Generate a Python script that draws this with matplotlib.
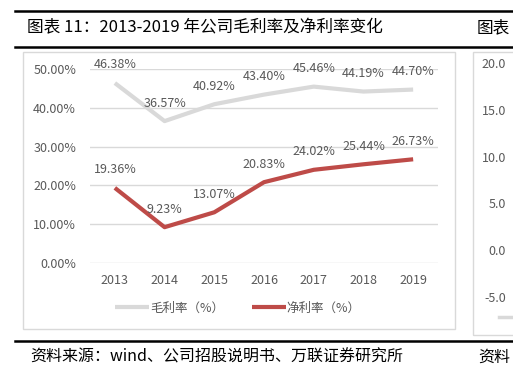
import matplotlib.pyplot as plt
from matplotlib.patches import Rectangle
from matplotlib.lines import Line2D

plt.rcParams['font.family'] = ['Noto Sans CJK SC', 'DejaVu Sans']

years = ["2013", "2014", "2015", "2016", "2017", "2018", "2019"]
gross_margin = [46.38, 36.57, 40.92, 43.40, 45.46, 44.19, 44.70]
net_margin = [19.36, 9.23, 13.07, 20.83, 24.02, 25.44, 26.73]
y_ticks = [0, 10, 20, 30, 40, 50]
right_ticks = ["20.0", "15.0", "10.0", "5.0", "0.0", "-5.0"]

W, H = 513, 371
fig = plt.figure(figsize=(W / 100, H / 100), dpi=100)


def fx(px):
    return px / W


def fy(py):
    return 1 - py / H


text_gray = "#595959"
grid_gray = "#d9d9d9"
gray_line = "#d9d9d9"
red_line = "#be4b48"

# header / footer rules
for y in (11, 47, 341):
    fig.add_artist(Line2D([fx(15), 1], [fy(y), fy(y)], color="black", lw=1.8))
fig.text(fx(27), fy(28), "图表 11：2013-2019 年公司毛利率及净利率变化",
         fontsize=12, va="center", ha="left")
fig.text(fx(477), fy(28), "图表", fontsize=12, va="center", ha="left")
fig.text(fx(30), fy(357), "资料来源：wind、公司招股说明书、万联证券研究所",
         fontsize=11.5, va="center", ha="left", style="italic")
fig.text(fx(478), fy(357), "资料", fontsize=11.5, va="center", ha="left",
         style="italic")

# chart frames
fig.add_artist(Rectangle((fx(23), fy(329)), fx(455 - 23), (329 - 52) / H,
                         fill=False, edgecolor=grid_gray, lw=1))
fig.add_artist(Rectangle((fx(473), fy(335)), fx(60), (335 - 52) / H,
                         fill=False, edgecolor=grid_gray, lw=1))

# partial neighbouring chart
for i, lab in enumerate(right_ticks):
    py = 65 + i * 46.6
    fig.text(fx(506), fy(py), lab, fontsize=9, color=text_gray,
             va="center", ha="right")
fig.add_artist(Line2D([fx(499), fx(513)], [fy(317), fy(317)], color=gray_line, lw=2.5))

# main chart
ax = fig.add_axes([fx(90), fy(263), fx(438 - 90), (263 - 69) / H])
x = range(len(years))
ax.plot(x, gross_margin, color=gray_line, lw=3, label="毛利率（%）",
        solid_capstyle="butt")
ax.plot(x, net_margin, color=red_line, lw=3, label="净利率（%）",
        solid_capstyle="butt")

for xi, v in zip(x, gross_margin):
    ax.annotate(f"{v:.2f}%", (xi, v), xytext=(0, 13), textcoords="offset points",
                ha="center", va="center", fontsize=9, color=text_gray)
for xi, v in zip(x, net_margin):
    ax.annotate(f"{v:.2f}%", (xi, v), xytext=(0, 13), textcoords="offset points",
                ha="center", va="center", fontsize=9, color=text_gray)

ax.set_xlim(-0.5, len(years) - 0.5)
ax.set_ylim(0, 50)
ax.set_yticks(y_ticks)
ax.set_yticklabels([f"{t:.2f}%" for t in y_ticks])
ax.set_xticks(list(x))
ax.set_xticklabels(years)
ax.tick_params(length=0, labelsize=9, labelcolor=text_gray)
ax.tick_params(axis="y", pad=10)
ax.tick_params(axis="x", pad=8)
ax.grid(axis="y", color=grid_gray, lw=1)
ax.set_axisbelow(True)
for s in ax.spines.values():
    s.set_visible(False)

ax.legend(loc="center", bbox_to_anchor=(fx(238), fy(308)),
          bbox_transform=fig.transFigure, ncol=2, frameon=False, fontsize=9,
          labelcolor=text_gray, handlelength=2.7, handletextpad=0.1,
          columnspacing=2.2)

fig.savefig("out.png", dpi=100)
